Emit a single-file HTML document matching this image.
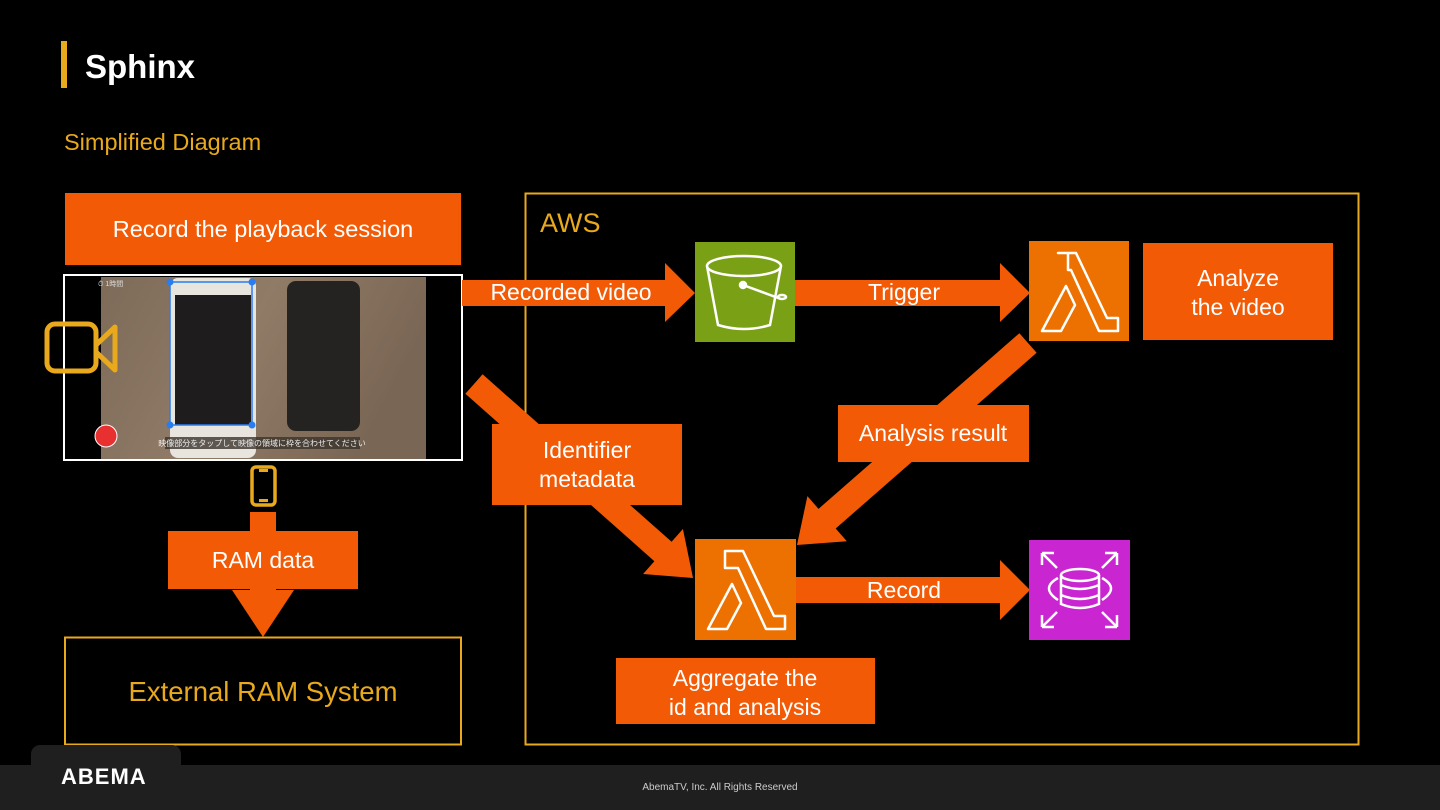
<!DOCTYPE html>
<html><head><meta charset="utf-8"><style>
body{margin:0;background:#000;width:1440px;height:810px;overflow:hidden;font-family:"Liberation Sans","Noto Sans CJK JP",sans-serif}
svg{display:block}
</style></head><body>
<svg width="1440" height="810" viewBox="0 0 1440 810" xmlns="http://www.w3.org/2000/svg" font-family="Liberation Sans, Noto Sans CJK JP, sans-serif">
<rect width="1440" height="810" fill="#000"/>
<rect x="61" y="41" width="6" height="47" fill="#e8a91c"/>
<text x="85" y="78" fill="#fff" font-size="33" font-weight="bold">Sphinx</text>
<text x="64" y="150" fill="#e8a91c" font-size="23.5">Simplified Diagram</text>

<rect x="525.5" y="193.5" width="833" height="551" fill="none" stroke="#e8a91c" stroke-width="2"/>
<text x="540" y="232" fill="#e8a91c" font-size="27">AWS</text>

<rect x="65" y="193" width="396" height="72" fill="#f25a06"/>
<text x="263" y="237" fill="#fff" font-size="23.5" text-anchor="middle">Record the playback session</text>

<rect x="64" y="275" width="398" height="185" fill="#000" stroke="#fff" stroke-width="2"/>
<defs><linearGradient id="wood" x1="0" x2="1" y1="0" y2="0.3"><stop offset="0" stop-color="#7d6a58"/><stop offset="0.5" stop-color="#8f7b66"/><stop offset="1" stop-color="#7a6654"/></linearGradient></defs>
<rect x="101" y="277" width="325" height="182" fill="url(#wood)"/>
<rect x="170" y="278" width="86" height="180" rx="8" fill="#e8e4de"/>
<rect x="175" y="295" width="76" height="130" fill="#1e1c1d"/>
<rect x="170" y="282" width="82" height="143" fill="none" stroke="#2a7df0" stroke-width="1.5"/>
<circle cx="170" cy="282" r="3.5" fill="#2a7df0"/><circle cx="252" cy="282" r="3.5" fill="#2a7df0"/>
<circle cx="170" cy="425" r="3.5" fill="#2a7df0"/><circle cx="252" cy="425" r="3.5" fill="#2a7df0"/>
<rect x="287" y="281" width="73" height="150" rx="9" fill="#242322"/>
<circle cx="106" cy="436" r="11" fill="#e83030" stroke="#fff" stroke-width="1"/>
<rect x="165" y="437" width="195" height="12" fill="#3a332c" opacity="0.8"/>
<text x="262" y="446" fill="#eee" font-size="8" text-anchor="middle">映像部分をタップして映像の領域に枠を合わせてください</text>
<text x="98" y="286" fill="#ddd" font-size="7">⏱ 1時間</text>

<rect x="47" y="324" width="49" height="47" rx="8" fill="none" stroke="#e8a91c" stroke-width="5"/>
<path d="M96 345 L115 327 L115 370 L96 352" fill="none" stroke="#e8a91c" stroke-width="5" stroke-linejoin="round"/>
<rect x="252" y="467" width="23" height="38" rx="4" fill="none" stroke="#e8a91c" stroke-width="3.5"/>
<rect x="259" y="469" width="9" height="3" fill="#e8a91c"/><rect x="259" y="499" width="9" height="3" fill="#e8a91c"/>

<polygon points="250,512 276,512 276,590 294,590 263,637 232,590 250,590" fill="#f25a06"/>
<rect x="168" y="531" width="190" height="58" fill="#f25a06"/>
<text x="263" y="568" fill="#fff" font-size="23" text-anchor="middle">RAM data</text>

<rect x="65" y="637.5" width="396" height="107" fill="none" stroke="#e8a91c" stroke-width="2"/>
<text x="263" y="701" fill="#e8a91c" font-size="27.5" text-anchor="middle">External RAM System</text>

<polygon points="462,280 665,280 665,263 695,293 665,322 665,306 462,306" fill="#f25a06"/>
<text x="571" y="300" fill="#fff" font-size="23" text-anchor="middle">Recorded video</text>
<polygon points="795,280 1000,280 1000,263 1030,293 1000,322 1000,306 795,306" fill="#f25a06"/>
<text x="904" y="300" fill="#fff" font-size="23" text-anchor="middle">Trigger</text>
<polygon points="795,577 1000,577 1000,560 1030,590 1000,620 1000,603 795,603" fill="#f25a06"/>
<text x="904" y="598" fill="#fff" font-size="23" text-anchor="middle">Record</text>

<polygon points="465.4,393.7 482.6,374.3 671.6,541.8 682.9,529 693,578 643.1,574 654.4,561.2" fill="#f25a06"/>
<rect x="492" y="424" width="190" height="81" fill="#f25a06"/>
<text x="587" y="458" fill="#fff" font-size="23" text-anchor="middle">Identifier</text>
<text x="587" y="487" fill="#fff" font-size="23" text-anchor="middle">metadata</text>

<polygon points="1019.4,333.2 1036.6,352.8 835.7,528.5 846.8,541.3 797,545 807.4,496.1 818.5,508.9" fill="#f25a06"/>
<rect x="838" y="405" width="191" height="57" fill="#f25a06"/>
<text x="933" y="441" fill="#fff" font-size="23" text-anchor="middle">Analysis result</text>

<rect x="695" y="242" width="100" height="100" fill="#7aa116"/>
<g fill="none" stroke="#fff" stroke-width="2.5">
<ellipse cx="744" cy="266" rx="37" ry="10"/>
<path d="M707 266 L718 325 Q744 333 770 325 L781 266"/>
<circle cx="743" cy="285" r="3" fill="#fff"/>
<path d="M743 285 L781 299"/>
<ellipse cx="782" cy="297" rx="4" ry="2"/>
</g>
<rect x="1029" y="241" width="100" height="100" fill="#ed7100"/>
<path d="M1058 253 L1076 253 L1107 318 L1118 318 L1118 331 L1099 331 L1071 270 L1068 270 L1068 253 Z M1066 286 L1075 305 L1061 331 L1042 331 Z" fill="none" stroke="#fff" stroke-width="2.5" stroke-linejoin="round"/>
<rect x="695" y="539" width="101" height="101" fill="#ed7100"/>
<path d="M725 551 L743 551 L774 616 L785 616 L785 629 L766 629 L738 568 L725 568 Z M732 584 L741 603 L727 629 L708 629 Z" fill="none" stroke="#fff" stroke-width="2.5" stroke-linejoin="round"/>
<rect x="1029" y="540" width="101" height="100" fill="#c925d1"/>
<g fill="none" stroke="#fff" stroke-width="2.5">
<path d="M1042 553 L1057 568 M1042 553 L1042 565 M1042 553 L1054 553"/>
<path d="M1117 553 L1102 568 M1117 553 L1117 565 M1117 553 L1105 553"/>
<path d="M1042 627 L1057 612 M1042 627 L1042 615 M1042 627 L1054 627"/>
<path d="M1117 627 L1102 612 M1117 627 L1117 615 M1117 627 L1105 627"/>
<ellipse cx="1080" cy="575" rx="19" ry="6"/>
<path d="M1061 575 L1061 604 Q1080 612 1099 604 L1099 575 M1061 585 Q1080 593 1099 585 M1061 595 Q1080 603 1099 595"/>
<path d="M1058 578 Q1040 588 1058 600 M1102 578 Q1120 588 1102 600"/>
</g>

<rect x="1143" y="243" width="190" height="97" fill="#f25a06"/>
<text x="1238" y="286" fill="#fff" font-size="23" text-anchor="middle">Analyze</text>
<text x="1238" y="315" fill="#fff" font-size="23" text-anchor="middle">the video</text>
<rect x="616" y="658" width="259" height="66" fill="#f25a06"/>
<text x="745" y="686" fill="#fff" font-size="23" text-anchor="middle">Aggregate the</text>
<text x="745" y="715" fill="#fff" font-size="23" text-anchor="middle">id and analysis</text>

<rect x="31" y="745" width="150" height="40" rx="9" fill="#1f1f1f"/>
<rect x="0" y="765" width="1440" height="45" fill="#1f1f1f"/>
<text x="61" y="784" fill="#fff" font-size="22" font-weight="bold" letter-spacing="1">ABEMA</text>
<text x="720" y="790" fill="#ccc" font-size="10" text-anchor="middle">AbemaTV, Inc. All Rights Reserved</text>
</svg>
</body></html>
